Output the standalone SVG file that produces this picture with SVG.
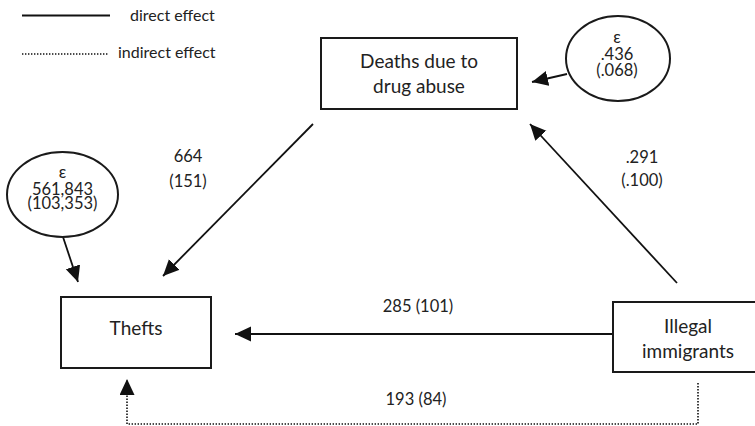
<svg xmlns="http://www.w3.org/2000/svg" width="755" height="426" viewBox="0 0 755 426">
<style>
  text { font-family: Lato, "Open Sans", "Liberation Sans", sans-serif; fill: #222; }
  .node { font-size: 19px; text-anchor: middle; }
  .lbl { font-size: 16.5px; text-anchor: middle; }
  .err { font-size: 16.5px; text-anchor: middle; }
  .leg { font-size: 16px; }
  .box { fill: #fff; stroke: #1a1a1a; stroke-width: 2; }
  .ell { fill: #fff; stroke: #1a1a1a; stroke-width: 2; }
  .solid { fill: none; stroke: #111; stroke-width: 1.8; }
  .dotted { fill: none; stroke: #111; stroke-width: 1.6; stroke-dasharray: 1.4 1.6; }
</style>
<defs>
  <marker id="ah" markerUnits="userSpaceOnUse" markerWidth="18" markerHeight="16" refX="16" refY="7.5" orient="auto">
    <path d="M0,0 L16,7.5 L0,15 z" fill="#111"/>
  </marker>
</defs>

<g id="legend">
  <line x1="22" y1="15.5" x2="110" y2="15.5" class="solid" stroke-width="2"/>
  <text x="130" y="21" class="leg">direct effect</text>
  <line x1="22" y1="54" x2="108" y2="54" class="dotted"/>
  <text x="118" y="58" class="leg">indirect effect</text>
</g>

<g id="connectors">
  <line x1="313" y1="124" x2="163" y2="276" class="solid" marker-end="url(#ah)"/>
  <line x1="677" y1="283" x2="530" y2="124" class="solid" marker-end="url(#ah)"/>
  <line x1="613" y1="334" x2="235" y2="334" class="solid" marker-end="url(#ah)"/>
  <line x1="63" y1="237" x2="78" y2="282" class="solid" marker-end="url(#ah)"/>
  <line x1="567" y1="74" x2="532" y2="82" class="solid" marker-end="url(#ah)"/>
  <path d="M698,383 L698,424 L127,424 L127,379" class="dotted" marker-end="url(#ah)"/>
  <text x="188" y="162" class="lbl">664</text>
  <text x="188" y="187" class="lbl">(151)</text>
  <text x="642" y="163" class="lbl">.291</text>
  <text x="642" y="186" class="lbl">(.100)</text>
  <text x="418" y="312" class="lbl">285 (101)</text>
  <text x="416" y="405" class="lbl">193 (84)</text>
</g>

<g id="deaths">
  <rect x="321" y="38" width="196" height="71" class="box"/>
  <text x="419" y="68" class="node">Deaths due to</text>
  <text x="419" y="93" class="node">drug abuse</text>
</g>

<g id="thefts">
  <rect x="61" y="297" width="150" height="71" class="box"/>
  <text x="136" y="335" class="node">Thefts</text>
</g>

<g id="illegal">
  <rect x="613" y="302" width="150" height="70" class="box"/>
  <text x="688" y="333" class="node">Illegal</text>
  <text x="688" y="358" class="node">immigrants</text>
</g>

<g id="err-thefts">
  <ellipse cx="62.5" cy="194.5" rx="55.5" ry="42.5" class="ell"/>
  <text x="62.5" y="178" class="err">ε</text>
  <text x="62.5" y="195" class="err">561,843</text>
  <text x="62.5" y="209" class="err">(103,353)</text>
</g>

<g id="err-deaths">
  <ellipse cx="618" cy="58.5" rx="52" ry="42.5" class="ell"/>
  <text x="617" y="43" class="err">ε</text>
  <text x="617" y="60" class="err">.436</text>
  <text x="617" y="76" class="err">(.068)</text>
</g>
</svg>
